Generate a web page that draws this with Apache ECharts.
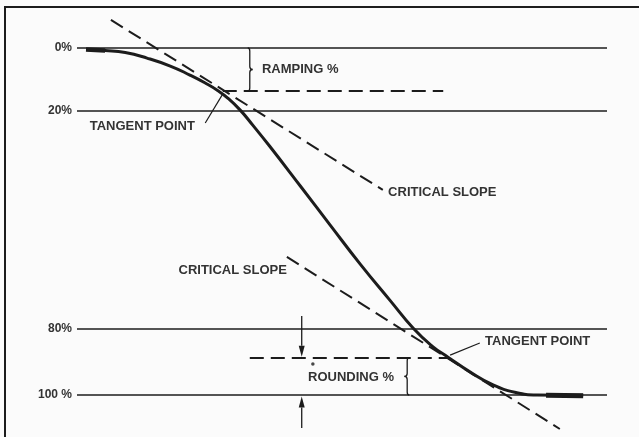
<!DOCTYPE html>
<html>
<head>
<meta charset="utf-8">
<script src="https://cdn.jsdelivr.net/npm/echarts@6/dist/echarts.min.js"></script>
<style>
  html, body { margin: 0; padding: 0; background: #fbfbfb; }
  #chart { width: 639px; height: 437px; }
</style>
</head>
<body>
<div id="chart"></div>
<script>
// level lines (drawn position) and their labels
const levelPos = [0, 18.2, 81.0, 100];
const levelLabels = ['0%', '20%', '80%', '100 %'];

// the S curve
const curveX = [1.7, 5.3, 9.1, 13.2, 17.6, 21.3, 24.2, 26.6, 28.5, 30.8, 33.2, 36.4, 42.1, 47.7, 53.4, 59.1, 63.4, 67.0, 70.0, 74.2, 78.5, 82.6, 86.8, 95.5];
const curveY = [0.4, 0.7, 1.3, 2.9, 5.2, 7.8, 10.1, 12.3, 14.5, 17.9, 22.3, 28.4, 39.7, 50.9, 62.2, 72.8, 80.7, 85.9, 89.1, 93.4, 97.1, 99.2, 100.0, 100.1];
// heavier ink at both flat ends
const inkStart = [[1.7, 0.4], [5.3, 0.7]];
const inkEnd = [[88.5, 100.1], [95.5, 100.2]];

// critical slopes
const slopeUpper = [[6.4, -8.1], [57.7, 40.9]];
const slopeLower = [[39.6, 60.2], [91.1, 109.8]];

// ramping / rounding levels
const rampLevel = 12.4;
const rampSpan = [27.5, 69.1];
const roundLevel = 89.3;
const roundSpan = [32.6, 70.0];

// leaders to the tangent points
const leaderUpper = [[24.2, 21.6], [27.4, 13.5]];
const leaderLower = [[76.0, 85.0], [70.4, 88.5]];

// arrows: x, from, to (tip)
const arrowX = 42.4;
const arrowDown = [77.2, 89.0];
const arrowUp = [109.5, 100.4];
const dotPoint = [44.5, 91.1];

// braces: x, top, bottom, side
const braces = [
  [32.6, 0, 12.4, 1],
  [62.3, 89.3, 100, -1]
];

// notes: text, x, y, align
const notes = [
  ['RAMPING %', 34.9, 6.3, 'left'],
  ['TANGENT POINT', 2.4, 22.5, 'left'],
  ['CRITICAL SLOPE', 58.7, 41.5, 'left'],
  ['CRITICAL SLOPE', 39.6, 64.0, 'right'],
  ['TANGENT POINT', 77.0, 84.7, 'left'],
  ['ROUNDING %', 43.6, 94.8, 'left']
];

const ink = '#1c1c1c';
const textColor = '#333333';
const font = 'bold 13px "Liberation Sans", Arial, sans-serif';

const chart = echarts.init(document.getElementById('chart'));

const levelCoords = levelPos.map(v => ({ coords: [[0, v], [100, v]] }));

const option = {
  backgroundColor: '#fbfbfb',
  animation: false,
  graphic: [{
    type: 'rect',
    shape: { x: 5, y: 7, width: 700, height: 500 },
    style: { fill: 'none', stroke: ink, lineWidth: 2 }
  }],
  grid: { left: 77, right: 32, top: 48, bottom: 42 },
  xAxis: {
    type: 'value', min: 0, max: 100, show: false
  },
  yAxis: {
    type: 'value', min: 0, max: 100, inverse: true,
    axisLine: { show: false },
    axisTick: { show: false },
    splitLine: { show: false },
    axisLabel: {
      customValues: levelPos,
      formatter: v => levelLabels[levelPos.indexOf(v)],
      margin: 5,
      fontSize: 12,
      fontWeight: 'bold',
      fontFamily: '"Liberation Sans", Arial, sans-serif',
      color: textColor
    }
  },
  series: [
    {
      type: 'lines', coordinateSystem: 'cartesian2d', clip: false,
      data: levelCoords,
      lineStyle: { color: ink, width: 1.6, opacity: 1 }
    },
    {
      type: 'lines', coordinateSystem: 'cartesian2d', clip: false,
      data: [
        { coords: slopeUpper },
        { coords: slopeLower },
        { coords: [[rampSpan[0], rampLevel], [rampSpan[1], rampLevel]] },
        { coords: [[roundSpan[0], roundLevel], [roundSpan[1], roundLevel]] }
      ],
      lineStyle: { color: ink, width: 2, type: [14, 7], opacity: 1 }
    },
    {
      type: 'lines', coordinateSystem: 'cartesian2d', clip: false,
      data: [{ coords: leaderUpper }, { coords: leaderLower }],
      lineStyle: { color: ink, width: 1.2, opacity: 1 }
    },
    {
      type: 'line', clip: false, smooth: 0.5, showSymbol: false,
      data: curveX.map((x, i) => [x, curveY[i]]),
      lineStyle: { color: ink, width: 3 }
    },
    {
      type: 'line', clip: false, showSymbol: false,
      data: inkStart, lineStyle: { color: ink, width: 4.5 }
    },
    {
      type: 'line', clip: false, showSymbol: false,
      data: inkEnd, lineStyle: { color: ink, width: 5 }
    },
    {
      type: 'scatter', clip: false, symbolSize: 3.5,
      data: [dotPoint], itemStyle: { color: ink }
    },
    {
      // arrows
      type: 'custom', clip: false,
      data: [[arrowX, arrowDown[0], arrowDown[1]], [arrowX, arrowUp[0], arrowUp[1]]],
      renderItem: (params, api) => {
        const a = api.coord([api.value(0), api.value(1)]);
        const b = api.coord([api.value(0), api.value(2)]);
        const dir = b[1] > a[1] ? 1 : -1;
        const len = 11, half = 3;
        return {
          type: 'group',
          children: [
            { type: 'line', shape: { x1: a[0], y1: a[1], x2: b[0], y2: b[1] - dir * len },
              style: { stroke: ink, lineWidth: 1.3 } },
            { type: 'polygon', shape: { points: [[b[0], b[1]], [b[0] - half, b[1] - dir * len], [b[0] + half, b[1] - dir * len]] },
              style: { fill: ink } }
          ]
        };
      }
    },
    {
      // braces
      type: 'custom', clip: false,
      data: braces,
      renderItem: (params, api) => {
        const top = api.coord([api.value(0), api.value(1)]);
        const bot = api.coord([api.value(0), api.value(2)]);
        const s = api.value(3);
        const x = top[0], y1 = top[1], y2 = bot[1], m = (y1 + y2) / 2;
        const c = 3, t = 3 * s;
        const d = 'M' + (x - 2 * s) + ' ' + y1 +
          ' Q' + x + ' ' + y1 + ' ' + x + ' ' + (y1 + c) +
          ' L' + x + ' ' + (m - c) +
          ' Q' + x + ' ' + m + ' ' + (x + t) + ' ' + m +
          ' Q' + x + ' ' + m + ' ' + x + ' ' + (m + c) +
          ' L' + x + ' ' + (y2 - c) +
          ' Q' + x + ' ' + y2 + ' ' + (x - 2 * s) + ' ' + y2;
        return {
          type: 'path',
          shape: { pathData: d },
          style: { stroke: ink, fill: 'none', lineWidth: 1.3 }
        };
      }
    },
    {
      // notes
      type: 'custom', clip: false,
      data: notes.map(n => [n[1], n[2], n[0], n[3]]),
      renderItem: (params, api) => {
        const n = notes[params.dataIndex];
        const p = api.coord([n[1], n[2]]);
        return {
          type: 'text',
          x: p[0], y: p[1],
          style: {
            text: n[0], font: font, fill: textColor,
            align: n[3], verticalAlign: 'middle'
          }
        };
      }
    }
  ]
};

chart.setOption(option);
</script>
</body>
</html>
